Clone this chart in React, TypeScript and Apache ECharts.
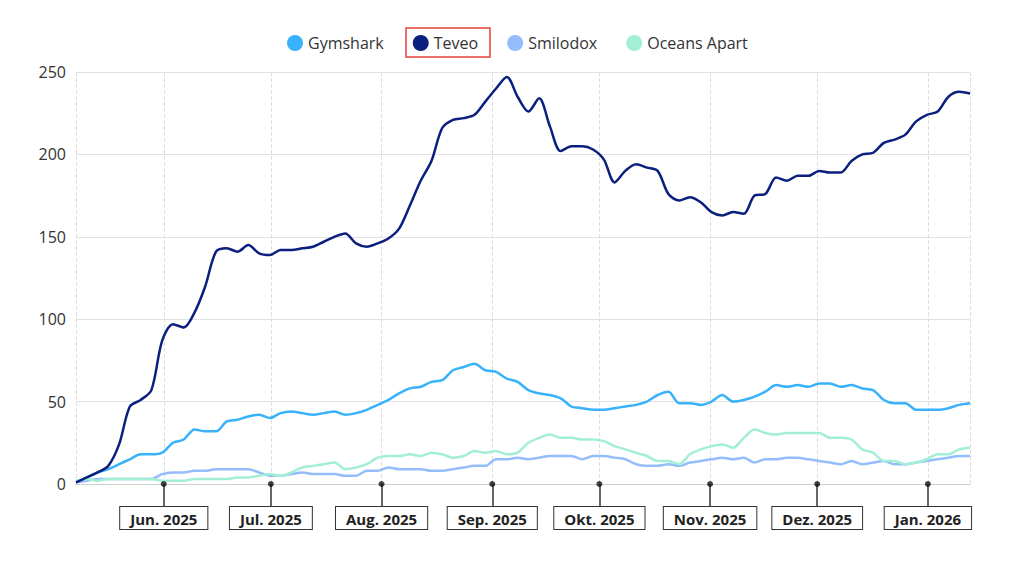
import React, { useEffect, useRef } from "react";
import * as echarts from "echarts";

// sampling: first point 7 May 2025 ~10:00, roughly every 3 days up to 12 Jan 2026
const START_MS = new Date(2025, 4, 7, 10).getTime();
const END_MS = new Date(2026, 0, 12, 19).getTime();

const seriesNames = ["Gymshark", "Teveo", "Smilodox", "Oceans Apart"];
const seriesColors = ["#38b2fb", "#0b1f7e", "#94bdfb", "#a3efd5"];

const gymshark = [
  1, 4, 7, 9, 12, 15, 18, 18, 19, 25, 27, 33, 32, 32, 38, 39, 41, 42, 40, 43,
  44, 43, 42, 43, 44, 42, 43, 45, 48, 51, 55, 58, 59, 62, 63, 69, 71, 73, 69, 68,
  64, 62, 57, 55, 54, 52, 47, 46, 45, 45, 46, 47, 48, 50, 54, 56, 49, 49, 48, 50,
  54, 50, 51, 53, 56, 60, 59, 60, 59, 61, 61, 59, 60, 58, 57, 51, 49, 49, 45, 45,
  45, 46, 48, 49,
];
const teveo = [
  1, 4, 7, 11, 24, 47, 51, 57, 87, 97, 95, 104, 120, 141, 143, 141, 145, 140, 139, 142,
  142, 143, 144, 147, 150, 152, 146, 144, 146, 149, 155, 169, 184, 196, 216, 221, 222, 224, 232, 240,
  247, 235, 226, 234, 217, 202, 205, 205, 203, 197, 183, 190, 194, 192, 190, 176, 172, 174, 171, 165,
  163, 165, 164, 175, 176, 186, 184, 187, 187, 190, 189, 189, 196, 200, 201, 207, 209, 212, 220, 224,
  226, 235, 238, 237,
];
const smilodox = [
  1, 2, 3, 3, 3, 3, 3, 3, 6, 7, 7, 8, 8, 9, 9, 9, 9, 7, 5, 5,
  6, 7, 6, 6, 6, 5, 5, 8, 8, 10, 9, 9, 9, 8, 8, 9, 10, 11, 11, 15,
  15, 16, 15, 16, 17, 17, 17, 15, 17, 17, 16, 15, 12, 11, 11, 12, 11, 13, 14, 15,
  16, 15, 16, 13, 15, 15, 16, 16, 15, 14, 13, 12, 14, 12, 13, 14, 12, 12, 13, 14,
  15, 16, 17, 17,
];
const oceansApart = [
  2, 3, 2, 3, 3, 3, 3, 3, 2, 2, 2, 3, 3, 3, 3, 4, 4, 5, 6, 5,
  7, 10, 11, 12, 13, 9, 10, 12, 16, 17, 17, 18, 17, 19, 18, 16, 17, 20, 19, 20,
  18, 19, 25, 28, 30, 28, 28, 27, 27, 26, 23, 21, 19, 17, 14, 14, 12, 18, 21, 23,
  24, 22, 28, 33, 31, 30, 31, 31, 31, 31, 28, 28, 27, 21, 19, 14, 14, 12, 13, 15,
  18, 18, 21, 22,
];
const seriesValues = [gymshark, teveo, smilodox, oceansApart];

const monthNames = ["Jan.", "Feb.", "Mär.", "Apr.", "Mai", "Jun.", "Jul.", "Aug.", "Sep.", "Okt.", "Nov.", "Dez."];
const monthStarts = [
  [2025, 5], [2025, 6], [2025, 7], [2025, 8], [2025, 9], [2025, 10], [2025, 11], [2026, 0],
];
const yTicks = { min: 0, max: 250, interval: 50 };

function dateAt(i: number, n: number): number {
  return START_MS + ((END_MS - START_MS) * i) / (n - 1);
}

export default function App() {
  const ref = useRef<HTMLDivElement>(null);
  useEffect(() => {
    if (!ref.current) return;
    const chart = echarts.init(ref.current, null, { renderer: "svg" });
    const n = teveo.length;
    const font = "'Open Sans', 'Noto Sans', sans-serif";
    const lineSeries = seriesNames.map((name, k) => ({
      name,
      type: "line",
      data: seriesValues[k].map((v, i) => [dateAt(i, n), v]),
      showSymbol: false,
      smooth: 0.3,
      lineStyle: { width: 2.5, color: seriesColors[k] },
      itemStyle: { color: seriesColors[k] },
      z: k === 1 ? 4 : 3,
    }));
    chart.setOption({
      animation: false,
      backgroundColor: "#ffffff",
      textStyle: { fontFamily: font },
      legend: {
        data: seriesNames,
        top: 30,
        left: 282,
        icon: "circle",
        itemWidth: 16,
        itemHeight: 16,
        itemGap: 29,
        textStyle: { fontSize: 16, color: "#333", fontFamily: font },
      },
      grid: { left: 76, right: 54, top: 72, bottom: 92 },
      xAxis: {
        type: "time",
        min: START_MS,
        max: END_MS,
        minInterval: 28 * 86400000,
        maxInterval: 31 * 86400000,
        axisLine: { show: true, lineStyle: { color: "#cfcfcf", width: 1 } },
        axisTick: { show: true, length: 23, lineStyle: { color: "#333", width: 1.5 } },
        splitLine: { show: true, lineStyle: { color: "#dedede", type: "dashed", width: 1 } },
        axisLabel: {
          margin: 23,
          fontSize: 15,
          fontWeight: "bold",
          color: "#222",
          fontFamily: font,
          backgroundColor: "#fff",
          borderColor: "#333",
          borderWidth: 1,
          padding: [4, 10, 3, 10],
          hideOverlap: false,
          formatter: (val: number) => {
            const d = new Date(val);
            return monthNames[d.getMonth()] + " " + d.getFullYear();
          },
        },
      },
      yAxis: {
        type: "value",
        min: yTicks.min,
        max: yTicks.max,
        interval: yTicks.interval,
        axisLine: { show: false },
        axisTick: { show: false },
        splitLine: { lineStyle: { color: "#e3e3e3", width: 1 } },
        axisLabel: { fontSize: 16, color: "#333", margin: 10, fontFamily: font },
      },
      series: [
        ...lineSeries,
        {
          name: "ticks",
          type: "scatter",
          data: monthStarts.map(([y, m]) => [new Date(y, m, 1).getTime(), 0]),
          symbol: "circle",
          symbolSize: 6,
          itemStyle: { color: "#111" },
          clip: false,
          silent: true,
          z: 10,
        },
      ],
      graphic: [
        {
          type: "rect",
          shape: { x: 406, y: 28, width: 84, height: 29 },
          style: { fill: "none", stroke: "#e8403c", lineWidth: 1.5 },
          silent: true,
        },
      ],
    });
    return () => chart.dispose();
  }, []);
  return (
    <div
      ref={ref}
      style={{ position: "absolute", left: 0, top: 0, width: 1024, height: 576, background: "#fff" }}
    />
  );
}
